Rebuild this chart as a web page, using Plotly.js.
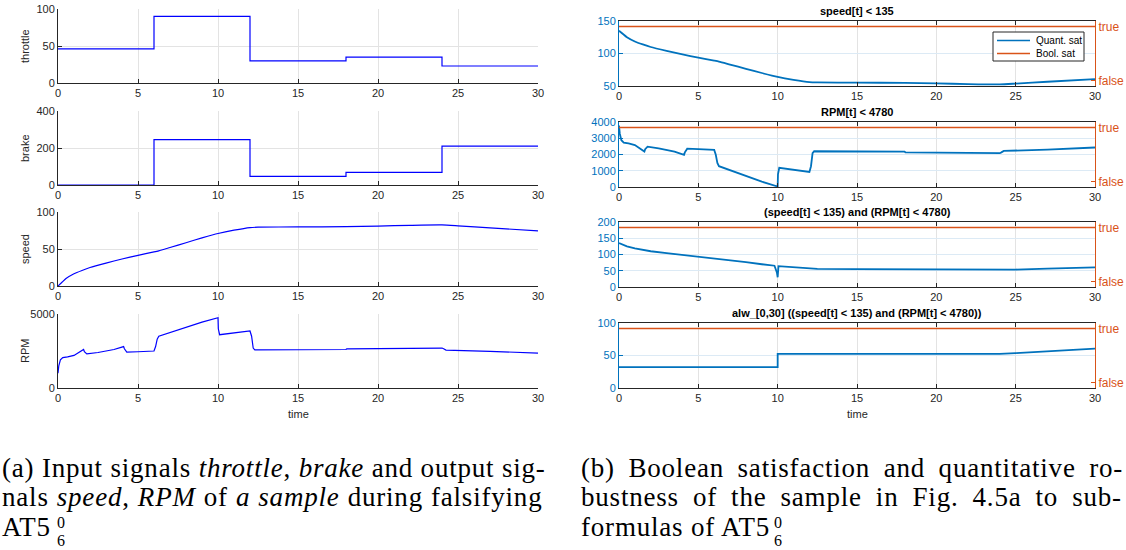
<!DOCTYPE html>
<html>
<head>
<meta charset="utf-8">
<script src="https://cdn.plot.ly/plotly-3.0.1.min.js"></script>
<style>
html,body{margin:0;padding:0;background:#fff;}
#chart{width:1126px;height:550px;}
</style>
</head>
<body>
<div id="chart"></div>
<script>
// ---------------- data ----------------
const tStep = [0, 6, 12, 18, 24, 30];
const throttle = [46, 90, 30, 35, 23, 23];
const brake = [0, 245, 47, 68, 210, 210];

const tSpeed = [0, 0.25, 0.5, 1, 1.5, 2, 3, 4, 5, 6, 6.3, 7, 8, 9, 10, 11, 12, 12.5, 15, 18, 20, 22, 24, 25, 27, 30];
const speed = [0, 5, 10, 16.5, 21, 25, 31, 36.5, 41.5, 46, 47.5, 52, 58.5, 65, 71, 75.5, 79, 79.5, 79.8, 80.2, 81, 82, 82.5, 81.3, 78.5, 74.5];

const tRpm = [0, 0.05, 0.15, 0.3, 0.6, 1.0, 1.6, 1.65, 1.8, 2.5, 3.5, 4.1, 4.15, 4.3, 5.0, 6.0, 6.1, 6.2, 6.3, 7, 8, 9, 10, 10.02, 10.1, 11, 12, 12.1, 12.2, 12.3, 15, 18, 18.05, 20, 24, 24.1, 24.25, 27, 30];
const rpm = [1000, 1500, 1900, 2050, 2100, 2200, 2600, 2450, 2300, 2400, 2600, 2800, 2650, 2420, 2450, 2500, 2800, 3300, 3500, 3750, 4100, 4450, 4750, 4000, 3600, 3700, 3850, 3500, 2700, 2580, 2580, 2600, 2650, 2670, 2700, 2650, 2560, 2480, 2350];

const tSpeedSat = [0, 0.25, 0.5, 1, 1.5, 2, 3, 4, 5, 6, 6.3, 7, 8, 9, 10, 11, 12, 12.5, 15, 18, 20, 22, 24, 25, 27, 30];
const speedSat = [135, 130, 125, 118.5, 114, 110, 104, 98.5, 93.5, 89, 87.5, 83, 76.5, 70, 64, 59.5, 56, 55.5, 55.2, 54.8, 54, 53, 52.5, 53.7, 56.5, 60.5];

const tRpmSat = [0, 0.05, 0.15, 0.3, 0.6, 1.0, 1.6, 1.65, 1.8, 2.5, 3.5, 4.1, 4.15, 4.3, 5.0, 6.0, 6.1, 6.2, 6.3, 7, 8, 9, 10, 10.02, 10.1, 11, 12, 12.1, 12.2, 12.3, 15, 18, 18.05, 20, 24, 24.1, 24.25, 27, 30];
const rpmSat = [3780, 3280, 2880, 2730, 2680, 2580, 2180, 2330, 2480, 2380, 2180, 1980, 2130, 2360, 2330, 2280, 1980, 1480, 1280, 1030, 680, 330, 30, 780, 1180, 1080, 930, 1280, 2080, 2200, 2200, 2180, 2130, 2110, 2080, 2130, 2220, 2300, 2430];

const tAndSat = [0, 0.25, 0.5, 1, 1.5, 2, 3, 4, 5, 6, 6.3, 7, 8, 9, 9.8, 9.95, 10, 10.05, 10.2, 11, 12, 12.5, 15, 18, 20, 22, 24, 25, 27, 30];
const andSat = [135, 130, 125, 118.5, 114, 110, 104, 98.5, 93.5, 89, 87.5, 83, 76.5, 70, 65.5, 45, 30, 64, 63.5, 59.5, 56, 55.5, 55.2, 54.8, 54, 53, 52.5, 53.7, 56.5, 60.5];

const tAlwSat = [0, 10, 10, 24, 25, 27, 30];
const alwSat = [32, 32, 52.5, 52.5, 53.7, 56.5, 60.5];

const tBool = [0, 30];
const boolSat = [1, 1];

const xTicks = [0, 5, 10, 15, 20, 25, 30];
const leftLabels = ["throttle", "brake", "speed", "RPM"];
const rightTitles = ["speed[t] &lt; 135", "RPM[t] &lt; 4780", "(speed[t] &lt; 135) and (RPM[t] &lt; 4780)", "alw_[0,30] ((speed[t] &lt; 135) and (RPM[t] &lt; 4780))"];
const boolTickText = ["false", "true"];
const legendNames = ["Quant. sat", "Bool. sat"];

// ---------------- layout helpers ----------------
const W = 1126, H = 550;
const px = v => v / W;
const py = v => 1 - v / H;
const FONT = "Liberation Sans, Arial, sans-serif";
const DARK = "#262626";
const BLUE = "#0072BD";
const ORANGE = "#D95319";

const leftX = [58, 538];
const rightX = [619, 1095];
const leftY = [[9, 83], [111, 185], [212, 286], [314, 388]];
const rightY = [[21, 86], [122, 187], [222, 287], [323, 388]];

const leftRanges = [[0, 100], [0, 400], [0, 100], [0, 5000]];
const leftTicks = [[0, 50, 100], [0, 200, 400], [0, 50, 100], [0, 5000]];
const rightRanges = [[50, 150], [0, 4000], [0, 200], [0, 100]];
const rightTicks = [[50, 100, 150], [0, 1000, 2000, 3000, 4000], [0, 50, 100, 150, 200], [0, 50, 100]];

const layout = {
  width: W, height: H,
  margin: {l: 0, r: 0, t: 0, b: 0, pad: 0},
  paper_bgcolor: "#fff", plot_bgcolor: "#fff",
  font: {family: FONT, size: 11, color: DARK},
  showlegend: false,
  annotations: [],
  shapes: []
};

function xName(i) { return i === 1 ? "xaxis" : "xaxis" + i; }
function yName(i) { return i === 1 ? "yaxis" : "yaxis" + i; }
function xRef(i) { return i === 1 ? "x" : "x" + i; }
function yRef(i) { return i === 1 ? "y" : "y" + i; }

for (let k = 0; k < 4; k++) {
  const i = k + 1;
  layout[xName(i)] = {
    domain: [px(leftX[0]), px(leftX[1])], anchor: yRef(i),
    range: [0, 30], tickmode: "array", tickvals: xTicks,
    ticks: "inside", ticklen: 4, tickcolor: DARK, tickwidth: 1,
    showline: true, linecolor: DARK, linewidth: 1,
    showgrid: true, gridcolor: "#E3E3E3", gridwidth: 1, zeroline: false,
    tickfont: {family: FONT, size: 11, color: DARK}, fixedrange: true
  };
  layout[yName(i)] = {
    domain: [py(leftY[k][1]), py(leftY[k][0])], anchor: xRef(i),
    range: leftRanges[k], tickmode: "array", tickvals: leftTicks[k],
    ticks: "inside", ticklen: 4, tickcolor: DARK, tickwidth: 1,
    showline: true, linecolor: DARK, linewidth: 1,
    showgrid: true, gridcolor: "#E3E3E3", gridwidth: 1, zeroline: false,
    tickfont: {family: FONT, size: 11, color: DARK}, fixedrange: true
  };
  layout.annotations.push({
    xref: "paper", yref: "paper", x: px(25), y: py((leftY[k][0] + leftY[k][1]) / 2),
    text: leftLabels[k], showarrow: false, textangle: -90,
    font: {family: FONT, size: 11, color: DARK}, xanchor: "center", yanchor: "middle"
  });
}
for (let k = 0; k < 4; k++) {
  const i = k + 5;
  const j = k + 9;
  layout[xName(i)] = {
    domain: [px(rightX[0]), px(rightX[1])], anchor: yRef(i),
    range: [0, 30], tickmode: "array", tickvals: xTicks,
    ticks: "inside", ticklen: 4, tickcolor: DARK, tickwidth: 1,
    showline: true, linecolor: DARK, linewidth: 1, mirror: "ticks",
    showgrid: true, gridcolor: "#E3E3E3", gridwidth: 1, zeroline: false,
    tickfont: {family: FONT, size: 11, color: DARK}, fixedrange: true
  };
  layout[yName(i)] = {
    domain: [py(rightY[k][1]), py(rightY[k][0])], anchor: xRef(i),
    range: rightRanges[k], tickmode: "array", tickvals: rightTicks[k],
    ticks: "inside", ticklen: 4, tickcolor: BLUE, tickwidth: 1,
    showline: true, linecolor: BLUE, linewidth: 1,
    showgrid: true, gridcolor: "#DCEAF5", gridwidth: 1, zeroline: false,
    tickfont: {family: FONT, size: 11, color: BLUE}, fixedrange: true
  };
  layout[yName(j)] = {
    overlaying: yRef(i), anchor: xRef(i), side: "right",
    range: [-0.1, 1.1], tickmode: "array", tickvals: [0, 1], ticktext: boolTickText,
    ticks: "inside", ticklen: 4, tickcolor: ORANGE, tickwidth: 1,
    showline: true, linecolor: ORANGE, linewidth: 1,
    showgrid: false, zeroline: false,
    tickfont: {family: FONT, size: 12, color: ORANGE}, fixedrange: true
  };
  layout.annotations.push({
    xref: "paper", yref: "paper", x: px((rightX[0] + rightX[1]) / 2), y: py(rightY[k][0] - 2),
    text: "<b>" + rightTitles[k] + "</b>", showarrow: false,
    font: {family: FONT, size: 11, color: "#000"}, xanchor: "center", yanchor: "bottom"
  });
}
// x-axis titles
[[leftX, 414], [rightX, 414]].forEach(([xr, y]) => {
  layout.annotations.push({
    xref: "paper", yref: "paper", x: px((xr[0] + xr[1]) / 2), y: py(y),
    text: "time", showarrow: false, font: {family: FONT, size: 11, color: DARK},
    xanchor: "center", yanchor: "middle"
  });
});

// legend box for the first right-hand panel
layout.shapes.push({type: "rect", xref: "paper", yref: "paper",
  x0: px(993), x1: px(1084), y0: py(61), y1: py(32),
  line: {color: DARK, width: 1}, fillcolor: "#fff", layer: "above"});
[[40.5, BLUE], [53.5, ORANGE]].forEach(([y, c], n) => {
  layout.shapes.push({type: "line", xref: "paper", yref: "paper",
    x0: px(997), x1: px(1030), y0: py(y), y1: py(y),
    line: {color: c, width: 1.3}, layer: "above"});
  layout.annotations.push({xref: "paper", yref: "paper", x: px(1034), y: py(y),
    text: legendNames[n], showarrow: false, xanchor: "left", yanchor: "middle",
    font: {family: FONT, size: 10, color: "#000"}});
});

// captions (justified-looking lines)
const SERIF = "Liberation Serif, Times New Roman, serif";
const CAP = {family: SERIF, size: 27, color: "#000"};
const CAPSMALL = {family: SERIF, size: 16, color: "#000"};
const captions = [
  [1, 468, 0, "(a) Input signals <i>throttle</i>, <i>brake</i> and output sig-"],
  [1, 497, 0.5, "nals <i>speed</i>, <i>RPM</i> of <i>a sample</i> during falsifying"],
  [1, 527, 0, "AT5"],
  [580, 468, 6, "(b) Boolean satisfaction and quantitative ro-"],
  [580, 497, 6.5, "bustness of the sample in Fig. 4.5a to sub-"],
  [580, 527, 0, "formulas of AT5"]
];
captions.forEach(([x, y, ws, t]) => {
  layout.annotations.push({xref: "paper", yref: "paper", x: px(x), y: py(y),
    text: '<span style="letter-spacing:0.8px;word-spacing:' + ws + 'px">' + t + '</span>',
    showarrow: false, font: CAP, xanchor: "left", yanchor: "middle", borderpad: 0});
});
// stacked super/subscripts of AT5
[[56, 522, "0"], [56, 540, "6"], [773, 522, "0"], [773, 540, "6"]].forEach(([x, y, t]) => {
  layout.annotations.push({xref: "paper", yref: "paper", x: px(x), y: py(y), text: t,
    showarrow: false, font: CAPSMALL, xanchor: "left", yanchor: "middle", borderpad: 0});
});

// ---------------- traces ----------------
const L = {color: "#0000FF", width: 1.2};
const Q = {color: BLUE, width: 1.8};
const B = {color: ORANGE, width: 1.5};
const data = [
  {x: tStep, y: throttle, xaxis: "x", yaxis: "y", mode: "lines", line: Object.assign({shape: "hv"}, L)},
  {x: tStep, y: brake, xaxis: "x2", yaxis: "y2", mode: "lines", line: Object.assign({shape: "hv"}, L)},
  {x: tSpeed, y: speed, xaxis: "x3", yaxis: "y3", mode: "lines", line: Object.assign({shape: "spline", smoothing: 0.6}, L)},
  {x: tRpm, y: rpm, xaxis: "x4", yaxis: "y4", mode: "lines", line: L},

  {x: tSpeedSat, y: speedSat, xaxis: "x5", yaxis: "y5", mode: "lines", line: Object.assign({shape: "spline", smoothing: 0.6}, Q), name: legendNames[0]},
  {x: tBool, y: boolSat, xaxis: "x5", yaxis: "y9", mode: "lines", line: B, name: legendNames[1]},
  {x: tRpmSat, y: rpmSat, xaxis: "x6", yaxis: "y6", mode: "lines", line: Q},
  {x: tBool, y: boolSat, xaxis: "x6", yaxis: "y10", mode: "lines", line: B},
  {x: tAndSat, y: andSat, xaxis: "x7", yaxis: "y7", mode: "lines", line: Q},
  {x: tBool, y: boolSat, xaxis: "x7", yaxis: "y11", mode: "lines", line: B},
  {x: tAlwSat, y: alwSat, xaxis: "x8", yaxis: "y8", mode: "lines", line: Q},
  {x: tBool, y: boolSat, xaxis: "x8", yaxis: "y12", mode: "lines", line: B}
];

Plotly.newPlot("chart", data, layout, {staticPlot: true, displayModeBar: false});
</script>
</body>
</html>
